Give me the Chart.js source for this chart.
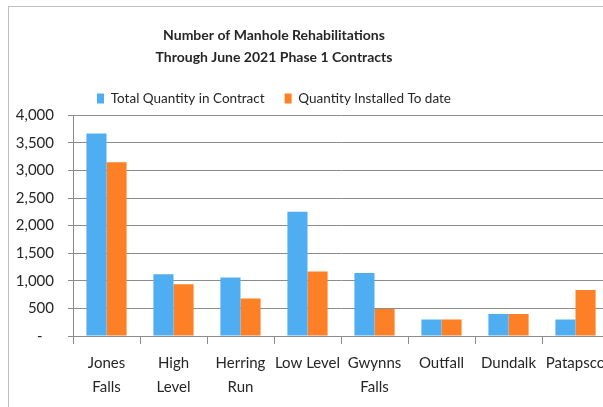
<!DOCTYPE html>
<html>
<head>
<meta charset="utf-8">
<script src="https://cdn.jsdelivr.net/npm/chart.js@4/dist/chart.umd.min.js"></script>
<style>
  html, body { margin: 0; padding: 0; background: #fff; overflow: hidden; width: 603px; height: 407px; }
  #frame { position: absolute; left: 8px; top: 6px; width: 700px; height: 500px; border: 1px solid #bfbfbf; }
  #wrap { position: absolute; left: 0; top: 0; width: 640px; height: 407px; }
</style>
</head>
<body>
<div id="frame"></div>
<div id="wrap"><canvas id="c"></canvas></div>
<script>
const titleLines = ['Number of Manhole Rehabilitations', 'Through June 2021 Phase 1 Contracts'];
const categories = [['Jones', 'Falls'], ['High', 'Level'], ['Herring', 'Run'], 'Low Level', ['Gwynns', 'Falls'], 'Outfall', 'Dundalk', 'Patapsco'];
const seriesNames = ['Total Quantity in Contract', 'Quantity Installed To date'];
const totalQuantity = [3670, 1120, 1060, 2250, 1140, 300, 400, 300];
const installedToDate = [3150, 940, 680, 1170, 490, 300, 400, 835];
const yTicks = [0, 500, 1000, 1500, 2000, 2500, 3000, 3500, 4000];

const FONT = 'Lato, "Open Sans", sans-serif';
const TEXT = '#262626';

const centerBlocks = {
  id: 'centerBlocks',
  afterLayout(chart) {
    const L = 8, R = 540;
    if (chart.titleBlock) { chart.titleBlock.left = L; chart.titleBlock.right = R; }
    if (chart.legend) { chart.legend.left = L; chart.legend.right = R; }
  }
};

new Chart(document.getElementById('c'), {
  type: 'bar',
  data: {
    labels: categories,
    datasets: [
      { label: seriesNames[0], data: totalQuantity, backgroundColor: '#4fadf2', categoryPercentage: 0.6, barPercentage: 1.0 },
      { label: seriesNames[1], data: installedToDate, backgroundColor: '#fd8026', categoryPercentage: 0.6, barPercentage: 1.0 }
    ]
  },
  options: {
    responsive: true,
    maintainAspectRatio: false,
    animation: false,
    layout: { padding: { left: 0, right: 31, top: 0, bottom: 0 } },
    plugins: {
      title: {
        display: true,
        text: titleLines,
        color: TEXT,
        font: { family: FONT, size: 14, weight: 'bold', lineHeight: 1.6 },
        padding: { top: 24, bottom: 3 }
      },
      legend: {
        display: true,
        labels: {
          color: TEXT,
          font: { family: FONT, size: 13.5 },
          boxWidth: 7,
          boxHeight: 10,
          padding: 20
        }
      },
      tooltip: { enabled: false }
    },
    scales: {
      x: {
        offset: true,
        grid: { display: true, drawOnChartArea: false, offset: true, tickLength: 8, color: '#8c8c8c', tickColor: '#8c8c8c' },
        border: { display: true, color: '#8c8c8c' },
        ticks: { color: TEXT, font: { family: FONT, size: 15, lineHeight: 1.6 }, maxRotation: 0, minRotation: 0, autoSkip: false, padding: 7 },
        afterFit(scale) { scale.height = 71; }
      },
      y: {
        min: 0, max: 4000,
        afterBuildTicks(scale) { scale.ticks = yTicks.map(v => ({ value: v })); },
        grid: { color: '#8c8c8c', tickLength: 5, tickColor: '#8c8c8c' },
        border: { display: true, color: '#8c8c8c' },
        ticks: {
          color: TEXT,
          font: { family: FONT, size: 15 },
          padding: 14,
          callback: v => v === 0 ? '-   ' : v.toLocaleString('en-US')
        },
        afterFit(scale) { scale.width = 73; }
      }
    }
  },
  plugins: [centerBlocks]
});
</script>
</body>
</html>
